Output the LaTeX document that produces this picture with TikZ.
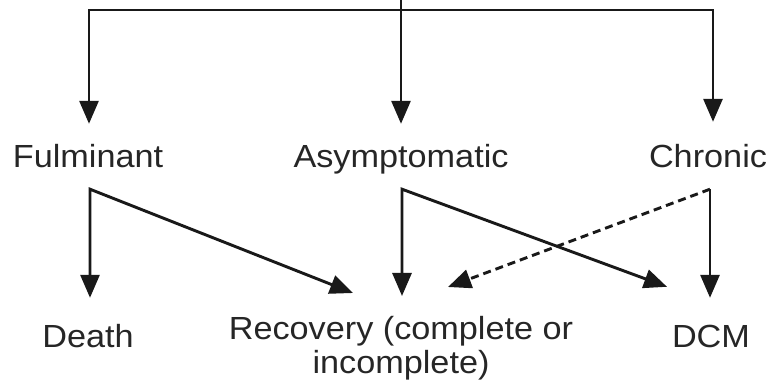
\documentclass[tikz,border=0pt]{standalone}
\usepackage{fontspec}
\setmainfont{Liberation Sans}[FakeStretch=1.07]
\usetikzlibrary{arrows.meta}
\begin{document}
\begin{tikzpicture}[x=1pt,y=-1pt,
  lbl/.style={font=\fontsize{32}{34}\selectfont, text=black!85, inner xsep=0pt},
  toplbl/.style={lbl, anchor=base, text height=23pt, text depth=0pt, inner ysep=21pt},
  botlbl/.style={lbl, anchor=base, text height=23pt, text depth=0pt, inner ysep=27pt},
  conn/.style={line width=2.9pt, draw=black!90, line join=miter},
  tip/.style={-{Triangle[width=19pt,length=23pt]}},
  tips/.style={{Triangle[width=19pt,length=23pt]}-{Triangle[width=19pt,length=23pt]}},
  dashedconn/.style={conn, dash pattern=on 8pt off 5pt}]
\useasboundingbox (0,0) rectangle (774,387);
% labels
\node[toplbl] (ful) at (88,168) {Fulminant};
\node[toplbl] (asy) at (401,168) {Asymptomatic};
\node[toplbl] (chr) at (708,168) {Chronic};
\node[botlbl] (death) at (88,348) {Death};
\node[botlbl] (dcm) at (711,348) {DCM};
\node[lbl, anchor=north, align=center, inner ysep=20pt] (rec) at (401,296)
  {Recovery (complete or\\incomplete)};
% top distribution
\coordinate (top) at (401,0);
\coordinate (lc) at (89,10);
\coordinate (rc) at (713,10);
\draw[conn, tips] (lc |- ful.north) -- (lc) -- (rc) -- ([yshift=2pt]rc |- chr.north);
\draw[conn, tip] (top) -- (asy.north);
% branches
\coordinate (fb) at ([xshift=2pt]ful.south);
\coordinate (ab) at ([xshift=1pt]asy.south);
\coordinate (cb) at ([xshift=2pt]chr.south);
\draw[conn, tips] (fb |- death.north) -- (fb) -- ([xshift=-48pt,yshift=3pt]rec.north);
\draw[conn, tips] (ab |- rec.north) -- (ab) -- ([xshift=-44pt,yshift=11pt]dcm.north);
\draw[conn, tip] (cb) -- (cb |- dcm.north);
\draw[dashedconn, tip] (cb) -- ([xshift=47pt,yshift=9pt]rec.north);
\end{tikzpicture}
\end{document}
